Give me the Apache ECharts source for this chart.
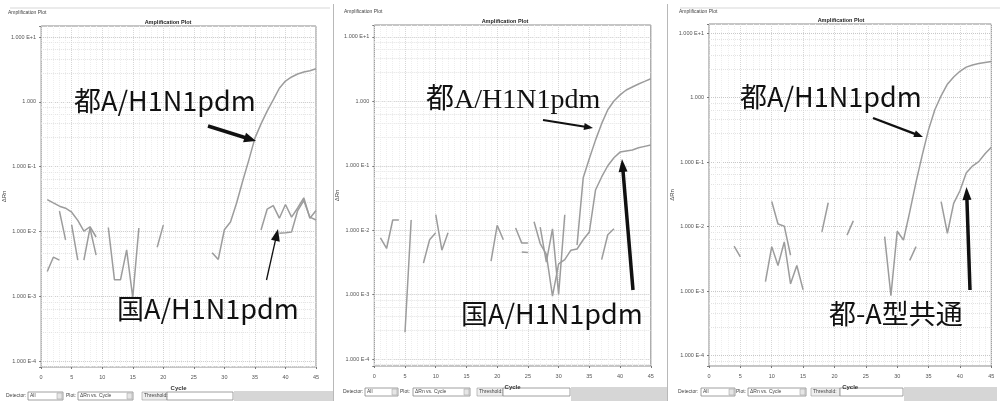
<!DOCTYPE html>
<html>
<head>
<meta charset="utf-8">
<script src="https://cdn.jsdelivr.net/npm/echarts@6/dist/echarts.min.js"></script>
<style>
  html, body { margin: 0; padding: 0; background: #fff; }
  #chart { width: 1003px; height: 401px; }
</style>
</head>
<body>
<div id="chart"></div>
<script>
// PCR cycle numbers
const cycles = [1, 2, 3, 4, 5, 6, 7, 8, 9, 10, 11, 12, 13, 14, 15, 16, 17, 18, 19, 20,
  21, 22, 23, 24, 25, 26, 27, 28, 29, 30, 31, 32, 33, 34, 35, 36, 37, 38, 39, 40,
  41, 42, 43, 44, 45];

// Delta Rn tick labels, from 1E-4 up to 1E+1
const yTickLabels = ['1.000 E-4', '1.000 E-3', '1.000 E-2', '1.000 E-1', '1.000', '1.000 E+1'];

// Run 1: Tokyo A/H1N1pdm assay, national A/H1N1pdm assay, other well
const run1Tokyo = [0.031, 0.0275, 0.0245, 0.0228, 0.0198, 0.0148, 0.0101, 0.0118, 0.0082, null,
  null, null, null, null, null, null, null, null, null, null,
  null, null, null, null, null, null, null, 0.0047, 0.0037, 0.0106,
  0.014, 0.0275, 0.060, 0.126, 0.275, 0.457, 0.72, 1.07, 1.62, 2.09,
  2.42, 2.69, 2.88, 3.02, 3.24];
const run1Other = [0.0024, 0.0040, 0.0036, null, 0.0126, 0.0036, null, null, null, null,
  0.0115, 0.0018, 0.0018, 0.0052, 0.00095, 0.0113, null, null, null, null,
  null, null, null, null, null, null, null, null, null, null,
  null, null, null, null, null, 0.0105, 0.022, 0.025, 0.016, 0.026,
  0.0166, 0.023, 0.033, 0.016, 0.021];
const run1National = [null, null, 0.0205, 0.0074, null, null, 0.0036, 0.0112, 0.0043, null,
  null, null, null, null, null, null, null, null, 0.0057, 0.0125,
  null, null, null, null, null, null, null, null, null, null,
  null, null, null, null, null, null, null, null, 0.0094, 0.0095,
  0.0098, 0.021, 0.030, 0.0166, 0.015];

// Run 2
const run2Tokyo = [null, null, null, null, 0.00026, 0.0144, null, 0.0031, 0.0071, 0.0091,
  null, null, null, null, null, null, null, null, 0.0033, 0.0119,
  0.0071, null, 0.0108, 0.0063, 0.0063, null, 0.0112, 0.0032, 0.0105, 0.00101,
  0.0174, null, 0.0059, 0.065, 0.13, 0.25, 0.45, 0.74, 1.01, 1.26,
  1.50, 1.67, 1.86, 2.04, 2.24];
const run2National = [0.0076, 0.0052, 0.0144, 0.0144, null, null, null, null, null, 0.0174,
  0.0049, 0.0091, null, null, null, null, null, null, null, null,
  null, null, null, null, null, 0.0135, 0.0062, 0.0042, 0.00095, 0.0030,
  0.0035, 0.0049, 0.0051, 0.0071, 0.0094, 0.042, 0.067, 0.100, 0.133, 0.163,
  0.170, 0.176, 0.19, 0.20, 0.21];
const run2Other = [null, null, null, null, null, null, null, null, null, null,
  null, null, null, null, null, null, null, null, null, null,
  null, null, null, 0.0046, 0.0045, null, null, null, null, null,
  null, null, null, null, null, null, 0.0035, 0.0085, 0.0105, null,
  null, null, null, null, null];

// Run 3: Tokyo A/H1N1pdm assay, Tokyo type A common assay, other well
const run3Tokyo = [null, null, null, null, null, null, null, null, null, 0.0245,
  0.011, 0.0102, 0.0036, null, null, null, null, null, null, null,
  null, null, null, null, null, null, null, 0.0070, 0.00085, 0.0085,
  0.0062, 0.017, 0.049, 0.13, 0.32, 0.65, 1.07, 1.62, 2.09, 2.57,
  2.98, 3.22, 3.39, 3.51, 3.63];
const run3TypeA = [null, null, null, 0.0050, 0.0034, null, null, null, 0.0014, 0.0049,
  0.0025, 0.0058, 0.0013, 0.0025, 0.00105, null, null, null, null, null,
  null, null, null, null, null, null, null, null, null, null,
  null, null, null, null, null, null, 0.0245, 0.0079, 0.023, 0.036,
  0.068, 0.087, 0.102, 0.135, 0.17];
const run3Other = [null, null, null, null, null, null, null, null, null, null,
  null, null, null, null, null, null, null, 0.0083, 0.0235, null,
  null, 0.0074, 0.0123, null, null, null, null, null, null, null,
  null, 0.0030, 0.0049, null, null, null, null, null, null, null,
  null, null, null, null, null];

const runs = [
  [run1Tokyo, run1Other, run1National],
  [run2Tokyo, run2National, run2Other],
  [run3Tokyo, run3TypeA, run3Other]
];

// Plot frames (px) and log ranges for each panel
const frames = [
  { left: 38.3, top: 26, width: 277.7, height: 341, min: 8.08e-5, max: 14.8, nameGap: 31 },
  { left: 374.3, top: 25, width: 276.5, height: 341, min: 7.8e-5, max: 15.3, nameGap: 33 },
  { left: 709, top: 24, width: 282.3, height: 342, min: 6.9e-5, max: 13.9, nameGap: 34 }
];

const SANS = '"Noto Sans CJK JP", "Noto Sans", sans-serif';
const SERIF = '"Liberation Serif", "DejaVu Serif", "Noto Sans CJK JP", serif';

function decadeLabel(v) {
  const e = Math.log10(v);
  const r = Math.round(e);
  return Math.abs(e - r) < 1e-6 && r >= -4 && r <= 1 ? yTickLabels[r + 4] : '';
}

const grids = frames.map(f => ({
  left: f.left, top: f.top, width: f.width, height: f.height,
  show: true, borderColor: '#8a8a8a', borderWidth: 1, backgroundColor: '#fff'
}));

const xAxes = frames.map((f, i) => ({
  type: 'value', gridIndex: i, min: 0, max: 45, interval: 5,
  name: 'Cycle', nameLocation: 'middle', nameGap: 16,
  nameTextStyle: { fontSize: 6, fontWeight: 'bold', color: '#333', fontFamily: 'Liberation Sans' },
  axisLine: { show: false },
  axisTick: { show: true, length: 2, lineStyle: { color: '#777' } },
  axisLabel: { fontSize: 5.5, color: '#555', margin: 7, fontFamily: 'Liberation Sans' },
  splitLine: { show: true, lineStyle: { color: '#d6d6d6', type: 'dotted', width: 1 } },
  minorTick: { show: false, splitNumber: 5 },
  minorSplitLine: { show: true, lineStyle: { color: '#eeeeee', type: 'dotted', width: 1 } }
}));

const yAxes = frames.map((f, i) => ({
  type: 'log', logBase: 10, gridIndex: i, min: f.min, max: f.max,
  name: 'ΔRn', nameLocation: 'middle', nameGap: f.nameGap,
  nameTextStyle: { fontSize: 6, color: '#444', fontFamily: 'Liberation Sans' },
  axisLine: { show: false },
  axisTick: { show: true, length: 2, lineStyle: { color: '#777' } },
  axisLabel: { fontSize: 5.5, color: '#555', margin: 5, fontFamily: 'Liberation Sans', formatter: decadeLabel },
  splitLine: { show: true, lineStyle: { color: '#c8c8c8', type: 'dotted', width: 1 } },
  minorTick: { show: false, splitNumber: 5 },
  minorSplitLine: { show: true, lineStyle: { color: '#e2e2e2', type: 'dotted', width: 1 } }
}));

const series = [];
runs.forEach((group, i) => {
  group.forEach(values => {
    series.push({
      type: 'line', xAxisIndex: i, yAxisIndex: i,
      data: cycles.map((c, k) => [c, values[k]]),
      showSymbol: false, connectNulls: false, silent: true,
      lineStyle: { color: '#9c9c9c', width: 1.5 }
    });
  });
});

// Annotation arrow: shaft plus triangular head
function arrow(x1, y1, x2, y2, w, hl, hw) {
  const a = Math.atan2(y2 - y1, x2 - x1);
  const bx = x2 - hl * Math.cos(a), by = y2 - hl * Math.sin(a);
  const px = -Math.sin(a) * hw / 2, py = Math.cos(a) * hw / 2;
  return [
    { type: 'line', z: 100, shape: { x1: x1, y1: y1, x2: bx + Math.cos(a), y2: by + Math.sin(a) },
      style: { stroke: '#111', lineWidth: w } },
    { type: 'polygon', z: 100, shape: { points: [[x2, y2], [bx + px, by + py], [bx - px, by - py]] },
      style: { fill: '#111' } }
  ];
}

function note(text, x, y, size, family) {
  return { type: 'text', z: 100, left: x, top: y,
    style: { text: text, fill: '#111', font: size + 'px ' + family } };
}

function small(text, x, y, opts) {
  return Object.assign({ type: 'text', z: 50, x: x, y: y,
    style: { text: text, fill: '#444', font: '5px "Liberation Sans"', textVerticalAlign: 'middle' } }, opts || {});
}

function heading(x, y) {
  return { type: 'text', z: 50, x: x, y: y,
    style: { text: 'Amplification Plot', fill: '#222', font: 'bold 5.5px "Liberation Sans"', textAlign: 'center', textVerticalAlign: 'middle' } };
}

// Bottom control strip of each plot window
function controls(p) {
  const y = p.y, h = 8, mid = y + h / 2;
  return [
    small('Detector:', p.det, mid),
    { type: 'rect', shape: { x: p.b1, y: y, width: p.b1w, height: h }, style: { fill: '#fff', stroke: '#888', lineWidth: 0.8 } },
    small('All', p.b1 + 2, mid),
    { type: 'rect', shape: { x: p.b1 + p.b1w - 6, y: y + 1, width: 5, height: h - 2 }, style: { fill: '#e6e6e6', stroke: '#999', lineWidth: 0.5 } },
    small('Plot:', p.plot, mid),
    { type: 'rect', shape: { x: p.b2, y: y, width: p.b2w, height: h }, style: { fill: '#fff', stroke: '#888', lineWidth: 0.8 } },
    small('ΔRn vs. Cycle', p.b2 + 2, mid),
    { type: 'rect', shape: { x: p.b2 + p.b2w - 6, y: y + 1, width: 5, height: h - 2 }, style: { fill: '#e6e6e6', stroke: '#999', lineWidth: 0.5 } },
    { type: 'rect', shape: { x: p.th, y: y, width: p.thw, height: h }, style: { fill: '#efefef', stroke: '#999', lineWidth: 0.6 } },
    small('Threshold:', p.th + 2, mid),
    { type: 'rect', shape: { x: p.th + p.thw, y: y, width: p.inw, height: h }, style: { fill: '#fff', stroke: '#888', lineWidth: 0.8 } },
    { type: 'rect', shape: { x: p.grey, y: y - 1, width: p.greyw, height: 401 - y + 1 }, style: { fill: '#d6d6d6' } }
  ];
}

const graphics = [].concat(
  // window separators and header strip
  [
    { type: 'line', shape: { x1: 333.5, y1: 4, x2: 333.5, y2: 401 }, style: { stroke: '#b8b8b8', lineWidth: 1 } },
    { type: 'line', shape: { x1: 667.5, y1: 4, x2: 667.5, y2: 401 }, style: { stroke: '#b8b8b8', lineWidth: 1 } },
    { type: 'rect', shape: { x: 10, y: 7, width: 320, height: 2 }, style: { fill: '#ebebeb' } },
    { type: 'rect', shape: { x: 680, y: 7, width: 320, height: 2 }, style: { fill: '#ebebeb' } },
    small('Amplification Plot', 8, 13),
    small('Amplification Plot', 344, 12),
    small('Amplification Plot', 679, 12),
    heading(168, 22),
    heading(505, 21),
    heading(841, 20)
  ],
  controls({ y: 392, det: 6, b1: 28, b1w: 35, plot: 66, b2: 78, b2w: 55, th: 142, thw: 25, inw: 66, grey: 234, greyw: 99 }),
  controls({ y: 388, det: 343, b1: 365, b1w: 33, plot: 400, b2: 413, b2w: 57, th: 477, thw: 26, inw: 67, grey: 571, greyw: 96 }),
  controls({ y: 388, det: 678, b1: 701, b1w: 34, plot: 736, b2: 748, b2w: 58, th: 811, thw: 29, inw: 63, grey: 904, greyw: 93 }),
  // labels and arrows
  [
    note('都A/H1N1pdm', 74, 87, 27, SANS),
    note('国A/H1N1pdm', 117, 295, 27, SANS),
    note('都A/H1N1pdm', 426, 87, 28, SERIF),
    note('国A/H1N1pdm', 461, 300, 27, SANS),
    note('都A/H1N1pdm', 740, 83, 27, SANS),
    note('都-A型共通', 829, 300, 27, SANS)
  ],
  arrow(208, 126, 256, 141, 3.5, 12, 10),
  arrow(266.5, 280, 278, 229, 1.3, 12, 9),
  arrow(543, 120, 593, 128, 2, 9, 7),
  arrow(633, 290, 622, 159, 3.5, 13, 9),
  arrow(873, 118, 923, 137, 2.4, 9, 7),
  arrow(970, 290, 966.5, 187, 3.5, 13, 9)
);

const chart = echarts.init(document.getElementById('chart'), null, { renderer: 'canvas' });
chart.setOption({
  backgroundColor: '#fff',
  animation: false,
  grid: grids,
  xAxis: xAxes,
  yAxis: yAxes,
  series: series,
  graphic: graphics
});
</script>
</body>
</html>
